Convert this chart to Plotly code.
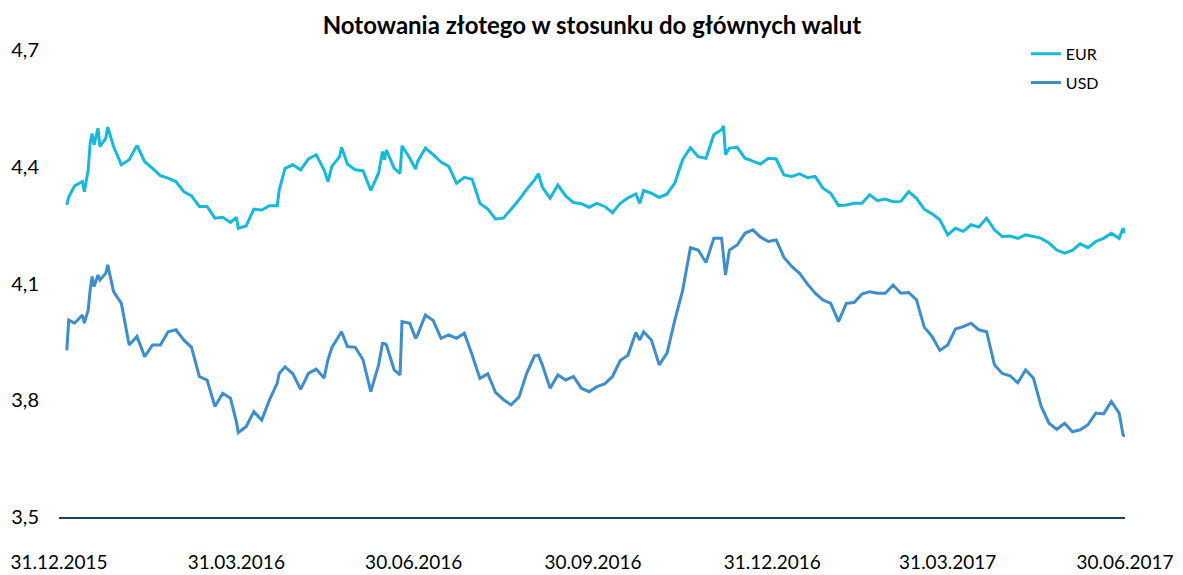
import pandas as pd
import plotly.graph_objects as go

# --- data (day offsets from 31.12.2015) ---
day_offsets = [
    4, 5, 8, 12, 13, 15, 16, 17, 18, 20, 21, 24, 25, 28, 32, 36, 40, 44, 48, 52,
    56, 60, 64, 68, 72, 76, 80, 84, 88, 91, 92, 96, 100, 104, 108, 112, 113, 116, 120, 124,
    128, 132, 136, 138, 140, 144, 145, 148, 152, 156, 160, 164, 166, 167, 168, 172, 175, 176, 180, 183,
    184, 188, 192, 196, 200, 204, 208, 212, 216, 220, 224, 228, 232, 236, 240, 244, 246, 248, 252, 256,
    260, 264, 268, 272, 276, 280, 284, 288, 292, 296, 298, 300, 304, 308, 312, 316, 320, 324, 328, 332,
    336, 340, 341, 342, 344, 348, 352, 356, 360, 364, 368, 372, 376, 380, 384, 388, 392, 396, 400, 404,
    408, 412, 416, 420, 424, 428, 432, 436, 440, 444, 448, 452, 456, 460, 464, 468, 472, 476, 480, 484,
    488, 492, 496, 500, 504, 508, 512, 516, 520, 524, 528, 532, 536, 540, 544, 546, 547,
]

eur = [
    4.302, 4.322, 4.351, 4.362, 4.336, 4.392, 4.461, 4.485, 4.456, 4.499, 4.452, 4.473, 4.502, 4.452, 4.405, 4.418, 4.455, 4.413, 4.396, 4.377,
    4.371, 4.362, 4.336, 4.325, 4.298, 4.298, 4.268, 4.270, 4.257, 4.270, 4.242, 4.248, 4.291, 4.289, 4.300, 4.300, 4.340, 4.396, 4.405, 4.392,
    4.420, 4.431, 4.392, 4.362, 4.401, 4.426, 4.450, 4.407, 4.392, 4.390, 4.339, 4.384, 4.439, 4.418, 4.443, 4.396, 4.383, 4.454, 4.422, 4.394,
    4.413, 4.448, 4.431, 4.412, 4.401, 4.358, 4.373, 4.368, 4.306, 4.291, 4.266, 4.268, 4.291, 4.315, 4.342, 4.366, 4.382, 4.348, 4.319, 4.353,
    4.325, 4.308, 4.305, 4.296, 4.306, 4.298, 4.282, 4.306, 4.320, 4.330, 4.306, 4.339, 4.332, 4.321, 4.330, 4.358, 4.418, 4.449, 4.426, 4.422,
    4.482, 4.495, 4.505, 4.431, 4.448, 4.450, 4.422, 4.415, 4.407, 4.422, 4.420, 4.379, 4.375, 4.382, 4.372, 4.375, 4.345, 4.332, 4.300, 4.302,
    4.306, 4.306, 4.328, 4.313, 4.317, 4.310, 4.311, 4.336, 4.319, 4.291, 4.279, 4.264, 4.225, 4.242, 4.234, 4.251, 4.245, 4.268, 4.238, 4.221,
    4.222, 4.216, 4.225, 4.221, 4.216, 4.204, 4.186, 4.178, 4.185, 4.202, 4.192, 4.208, 4.216, 4.229, 4.216, 4.242, 4.229,
]

usd = [
    3.928, 4.006, 3.998, 4.019, 3.998, 4.032, 4.084, 4.118, 4.092, 4.122, 4.109, 4.126, 4.148, 4.079, 4.049, 3.942, 3.964, 3.912, 3.942, 3.942,
    3.976, 3.981, 3.955, 3.936, 3.861, 3.852, 3.784, 3.818, 3.805, 3.745, 3.717, 3.732, 3.771, 3.749, 3.801, 3.844, 3.869, 3.886, 3.868, 3.828,
    3.869, 3.880, 3.857, 3.904, 3.935, 3.968, 3.976, 3.938, 3.936, 3.904, 3.822, 3.891, 3.946, 3.946, 3.942, 3.878, 3.865, 4.002, 3.998, 3.959,
    3.968, 4.019, 4.005, 3.959, 3.968, 3.959, 3.972, 3.916, 3.856, 3.868, 3.820, 3.802, 3.788, 3.808, 3.869, 3.914, 3.916, 3.891, 3.831, 3.865,
    3.852, 3.861, 3.831, 3.822, 3.835, 3.842, 3.861, 3.902, 3.916, 3.974, 3.955, 3.976, 3.955, 3.891, 3.921, 4.006, 4.082, 4.192, 4.186, 4.154,
    4.216, 4.216, 4.169, 4.122, 4.186, 4.199, 4.229, 4.238, 4.219, 4.208, 4.212, 4.167, 4.144, 4.126, 4.099, 4.075, 4.058, 4.049, 4.002, 4.049,
    4.051, 4.073, 4.079, 4.075, 4.075, 4.096, 4.075, 4.077, 4.058, 3.988, 3.964, 3.928, 3.942, 3.983, 3.989, 3.998, 3.981, 3.976, 3.891, 3.869,
    3.863, 3.845, 3.878, 3.857, 3.784, 3.741, 3.725, 3.741, 3.719, 3.724, 3.737, 3.767, 3.765, 3.797, 3.767, 3.711, 3.707,
]

tick_dates = ["2015-12-31", "2016-03-31", "2016-06-30", "2016-09-30", "2016-12-31", "2017-03-31", "2017-06-30"]
tick_labels = ["31.12.2015", "31.03.2016", "30.06.2016", "30.09.2016", "31.12.2016", "31.03.2017", "30.06.2017"]
y_ticks = [3.5, 3.8, 4.1, 4.4, 4.7]

start = pd.Timestamp("2015-12-31")
dates = [start + pd.Timedelta(days=d) for d in day_offsets]

fig = go.Figure()
fig.add_trace(go.Scatter(x=dates, y=eur, mode='lines', name='EUR', legendgroup='eur',
                         line=dict(width=3, color='#17B9D8')))
fig.add_trace(go.Scatter(x=dates, y=usd, mode='lines', name='USD', legendgroup='usd',
                         line=dict(width=3, color='#3D8ECB')))

fig.update_xaxes(
    range=["2015-12-31", "2017-06-30"], tickvals=tick_dates, ticktext=tick_labels,
    showgrid=False, zeroline=False, showline=True, linecolor='#21405E', linewidth=2,
    ticks='', ticklabelstandoff=27, tickfont=dict(size=19, color='black'),
    automargin=False, ticklabeloverflow='allow',
)
fig.update_yaxes(
    range=[3.5, 4.7], tickvals=y_ticks, tickformat='.1f',
    showgrid=False, zeroline=False, showline=False,
    ticks='', ticklabelstandoff=19, tickfont=dict(size=20, color='black'), automargin=False,
)

# page body has an 8px margin, so the figure is sized to fit the window from there
fig.update_layout(
    width=1175, height=567,
    margin=dict(l=51, r=58, t=42, b=58),
    plot_bgcolor='white', paper_bgcolor='white',
    separators=',.',
    font=dict(family='Lato, Open Sans, sans-serif', color='black'),
    title=dict(text='<b>Notowania złotego w stosunku do głównych walut</b>',
               x=0.5, xref='paper', xanchor='center', y=1 - 18 / 567, yanchor='middle',
               font=dict(size=24, color='black')),
    showlegend=True,
    legend=dict(x=0.907, y=1.028, xanchor='left', yanchor='top', bgcolor='rgba(0,0,0,0)',
                font=dict(size=16, color='black'), tracegroupgap=5, traceorder='grouped'),
)

fig.write_html("out.html")
